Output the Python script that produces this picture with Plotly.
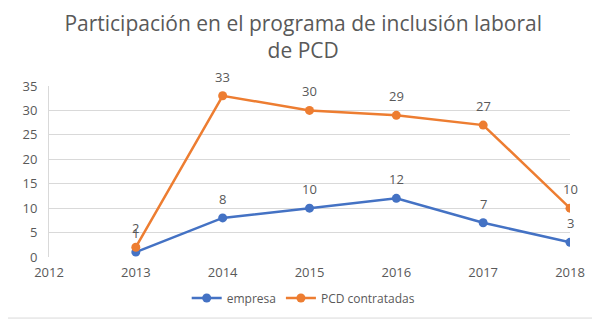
import plotly.graph_objects as go

years = [2013, 2014, 2015, 2016, 2017, 2018]
empresa = [1, 8, 10, 12, 7, 3]
pcd = [2, 33, 30, 29, 27, 10]
x_ticks = [2012, 2013, 2014, 2015, 2016, 2017, 2018]
y_ticks = [0, 5, 10, 15, 20, 25, 30, 35]

BLUE = "#4472C4"
ORANGE = "#ED7D31"
GRAY = "#595959"
FONT = "Open Sans"

fig = go.Figure()
fig.add_trace(go.Scatter(x=years, y=empresa, name="empresa", mode="lines+markers",
                         line=dict(color=BLUE, width=2.5), marker=dict(size=9, color=BLUE)))
fig.add_trace(go.Scatter(x=years, y=pcd, name="PCD contratadas", mode="lines+markers",
                         line=dict(color=ORANGE, width=2.5), marker=dict(size=9, color=ORANGE)))

for xs, ys in ((years, empresa), (years, pcd)):
    for xv, yv in zip(xs, ys):
        fig.add_annotation(x=xv, y=yv, text=str(yv), showarrow=False, yshift=19,
                           font=dict(family=FONT, size=13, color=GRAY))

fig.update_layout(
    width=600, height=324,
    margin=dict(l=41, r=38, t=78, b=75, autoexpand=False),
    paper_bgcolor="white", plot_bgcolor="white",
    title=dict(text="Participación en el programa de inclusión laboral<br>de PCD",
               x=0.492, xanchor="center", y=0.93, yanchor="top",
               font=dict(family=FONT, size=21, color=GRAY)),
    font=dict(family=FONT, size=12, color=GRAY),
    showlegend=True,
    legend=dict(orientation="h", x=0.492, xref="container", xanchor="center",
                y=0.105, yref="container", yanchor="middle",
                font=dict(family=FONT, size=12, color=GRAY), itemwidth=30),
    shapes=[dict(type="rect", xref="paper", yref="paper", x0=-0.1, x1=1.046,
                 y0=-0.357, y1=1.6, line=dict(color="#D9D9D9", width=1))],
)
fig.update_xaxes(range=[2012, 2018], tickvals=x_ticks, ticktext=[str(t) for t in x_ticks],
                 showgrid=False, zeroline=False, showline=False, automargin=False,
                 ticklabelstandoff=6,
                 tickfont=dict(family=FONT, size=13, color=GRAY))
fig.update_yaxes(range=[0, 35], tickvals=y_ticks, showgrid=True, gridcolor="#D9D9D9",
                 gridwidth=1, zeroline=False, showline=True, linecolor="#D9D9D9",
                 automargin=False, ticklabelstandoff=8,
                 tickfont=dict(family=FONT, size=13, color=GRAY), ticks="", ticklen=0)

fig.write_html("out.html")
